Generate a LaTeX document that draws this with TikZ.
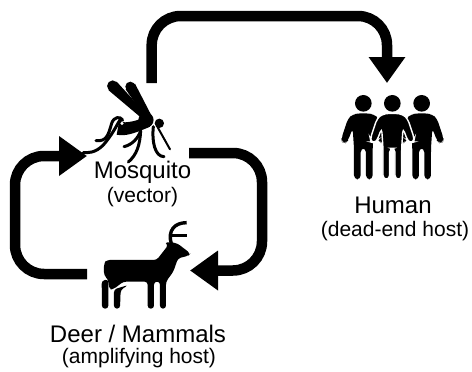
\documentclass[tikz,border=0pt]{standalone}
\usepackage{fontspec}
\setmainfont{Liberation Sans}
\usetikzlibrary{arrows.meta}

\tikzset{
    pics/person/.style={code={
        \fill (0,70) circle (25);
        \path[fill=black, draw=#1, line width=1.4pt, rounded corners=4pt] (-12,100) -- (12,100) -- (32,103) -- (46,116)
            -- (66,176) -- (64,186) -- (53,189) -- (46,182) -- (32,145) -- (28,205) -- (28,298) -- (8,298) -- (8,205) -- (-8,205)
            -- (-8,298) -- (-28,298) -- (-28,205) -- (-32,145) -- (-46,182) -- (-53,189) -- (-64,186) -- (-66,176)
            -- (-46,116) -- (-32,103) -- cycle;
    }},
    pics/person/.default={none}
}

\begin{document}
\begin{tikzpicture}[
    x=1pt, y=-1pt,
    arr/.style={line width=10.5pt, rounded corners=29pt, -{Triangle[length=28pt, width=38pt]}},
    icon/.style={x=0.3333pt, y=-0.3333pt},
    limb/.style={line width=3pt, line cap=round, line join=round},
    title/.style={font=\fontsize{24}{26}\selectfont, inner sep=0pt},
    role/.style={font=\fontsize{21}{24}\selectfont, inner sep=0pt}
]
    \useasboundingbox (0,0) rectangle (472,372);

    %% --- Labels ---
    \node[title] (mosqname) at (142.5,172) {Mosquito};
    \node[role] (mosqrole) at (142.5,197) {(vector)};
    \node[title] (humanname) at (393,205) {Human};
    \node[role] (humanrole) at (395,231) {(dead-end host)};
    \node[title] (deername) at (138,334) {Deer / Mammals};
    \node[role] (deerrole) at (139,358) {(amplifying host)};

    %% --- Mosquito ---
    \begin{scope}[shift={(70,70)}, icon]
        \fill (128,48) circle (5.6pt);
        \fill (116,61) -- (140,35) -- (225,128) -- (212,142) -- cycle;
        \fill (181,50) circle (5pt);
        \fill (167,58) -- (195,41) -- (242,132) -- (222,137) -- cycle;
        \fill (228,150) circle (7.6pt);
        \fill (268,160) circle (4.7pt);
        \fill (235,130) .. controls (215,150) and (190,155) .. (165,157) -- (148,152) -- (140,194)
            .. controls (165,200) and (195,190) .. (240,170) -- cycle;
        \draw[limb] (158,150) .. controls (150,138) and (132,140) .. (125,160) .. controls (115,195) and (110,215) .. (78,212);
        \draw[limb] (150,150) .. controls (140,165) and (130,190) .. (100,225) .. controls (75,250) and (55,248) .. (40,248);
        \draw[limb] (212,182) .. controls (205,205) and (185,225) .. (162,230);
        \draw[limb] (212,182) .. controls (210,225) and (200,255) .. (175,276);
        \draw[limb] (250,170) .. controls (245,215) and (255,260) .. (282,260);
        \draw[limb, line width=2pt] (262,170) -- (300,238);
        \fill[white] (156,160) circle (1.7pt);
    \end{scope}

    %% --- Deer ---
    \begin{scope}[shift={(90,210)}, icon]
        \fill[rounded corners=3pt] (50,150) -- (200,150) -- (235,105) -- (224,97) -- (245,97) -- (262,100)
            -- (301,130) -- (296,137) -- (264,145) -- (250,185) -- (228,215) -- (228,296) -- (210,296) -- (210,215)
            -- (192,215) -- (192,296) -- (173,296) -- (173,215) -- (100,215) -- (70,238) -- (58,238) -- (54,208) -- (42,196) -- (42,160) -- cycle;
        \fill[rounded corners=3pt] (35,212) -- (55,208) -- (55,296) -- (36,296) -- cycle;
        \fill[rounded corners=3pt] (72,238) -- (115,225) -- (92,240) -- (90,296) -- (72,296) -- cycle;
        \draw[limb, line width=3.4pt, line cap=butt] (244,102) .. controls (232,60) and (255,38) .. (290,38);
        \draw[limb, line width=3.4pt, line cap=butt] (240,76) -- (292,76);
    \end{scope}

    %% --- Human ---
    \begin{scope}[shift={(330,80)}, icon]
        \pic at (100,0) {person};
        \pic at (275,0) {person};
        \pic at (187,0) {person=white};
    \end{scope}

    %% --- Arrows ---
    \coordinate (mosqout) at (151.7,83);
    \coordinate (humanin) at (387,83);
    \coordinate (deerout) at (87,274);
    \coordinate (mosqin) at (87,156);
    \coordinate (mosqret) at (189,153);
    \coordinate (deerin) at (190,270.5);
    \draw[arr, -{Triangle[length=26pt, width=35pt]}] (mosqout) -- ++(0,-67) -| (humanin);
    \draw[arr] (deerout) -- ++(-72,0) |- (mosqin);
    \draw[arr] (mosqret) -- ++(73,0) |- (deerin);
\end{tikzpicture}
\end{document}
